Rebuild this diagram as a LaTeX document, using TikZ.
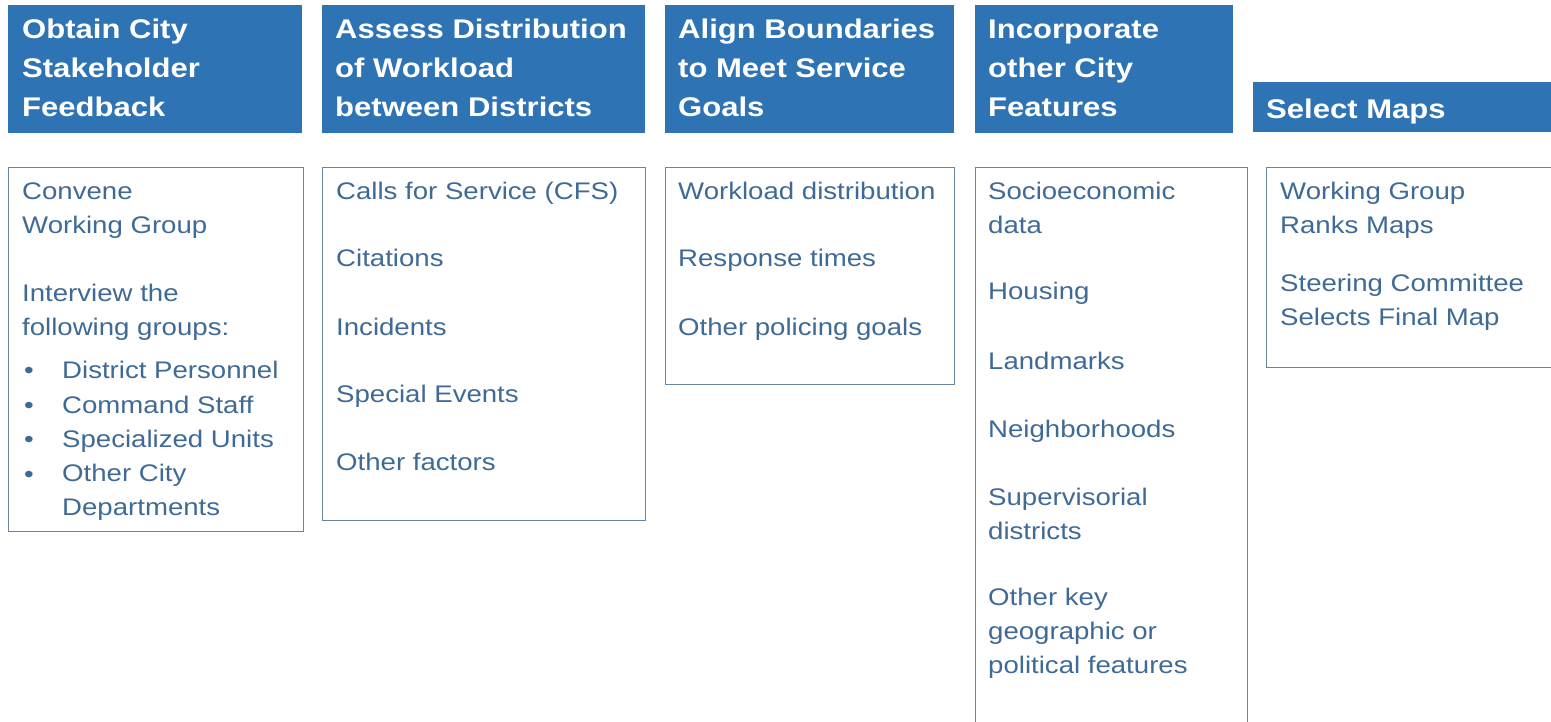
\documentclass[tikz,border=0pt]{standalone}
\usepackage{fontspec}
\setmainfont{Liberation Sans}[FakeStretch=1.15]
\usetikzlibrary{positioning}
\definecolor{headblue}{RGB}{46,116,181}
\definecolor{textblue}{RGB}{64,106,150}
\definecolor{boxline}{RGB}{104,134,162}
\begin{document}
\begin{tikzpicture}[x=1pt,y=-1pt]
\tikzset{head/.style = {fill=headblue, draw=none, anchor=north west, inner sep=0pt},
  headtext/.style = {anchor=base west, text=white, inner sep=0pt, align=left, font=\fontsize{27}{39}\selectfont\bfseries},
  frame/.style = {draw=boxline, line width=1.2pt, anchor=north west, inner sep=0pt},
  item/.style = {anchor=base west, text=textblue, inner sep=0pt, align=left, font=\fontsize{24}{34}\selectfont}}
\useasboundingbox[fill=white] (0,0) rectangle (1551,722);
% header bars
\node[head, minimum width=294pt, minimum height=128pt] (h1) at (8,5) {};
\node[head, minimum width=323pt, minimum height=128pt] (h2) at (322,5) {};
\node[head, minimum width=289pt, minimum height=128pt] (h3) at (665,5) {};
\node[head, minimum width=258pt, minimum height=128pt] (h4) at (975,5) {};
\node[head, minimum width=300pt, minimum height=50pt] (h5) at (1253,82) {};

% header texts (base = last line)
\node[headtext] (t1) at (22,117) {Obtain City\\Stakeholder\\Feedback};
\node[headtext] (t2) at (335,117) {Assess Distribution\\of Workload\\between Districts};
\node[headtext] (t3) at (678,117) {Align Boundaries\\to Meet Service\\Goals};
\node[headtext] (t4) at (988,117) {Incorporate\\other City\\Features};
\node[headtext] (t5) at (1266,119) {Select Maps};

% boxes
\node[frame, minimum width=295pt, minimum height=364pt] (b1) at (8,167) {};
\node[frame, minimum width=323pt, minimum height=353pt] (b2) at (322,167) {};
\node[frame, minimum width=289pt, minimum height=217pt] (b3) at (665,167) {};
\node[frame, minimum width=272pt, minimum height=580pt] (b4) at (975,167) {};
\node[frame, minimum width=300pt, minimum height=200pt] (b5) at (1266,167) {};

% column 1
\node[item] (c1a) at (22,234) {Convene\\Working Group};
\node[item] (c1b) at (22,335) {Interview the\\following groups:};
\node[item] (d1) at (24,378) {\textbullet};
\node[item] (d2) at (24,413) {\textbullet};
\node[item] (d3) at (24,447) {\textbullet};
\node[item] (d4) at (24,482) {\textbullet};
\node[item] (g1) at (62,378) {District Personnel};
\node[item] (g2) at (62,413) {Command Staff};
\node[item] (g3) at (62,447) {Specialized Units};
\node[item] (g4) at (62,515) {Other City\\Departments};

% column 2
\node[item] (c2a) at (336,200) {Calls for Service (CFS)};
\node[item] (c2b) at (336,267) {Citations};
\node[item] (c2c) at (336,335) {Incidents};
\node[item] (c2d) at (336,402) {Special Events};
\node[item] (c2e) at (336,470) {Other factors};

% column 3
\node[item] (c3a) at (678,200) {Workload distribution};
\node[item] (c3b) at (678,267) {Response times};
\node[item] (c3c) at (678,335) {Other policing goals};

% column 4
\node[item] (c4a) at (988,234) {Socioeconomic\\data};
\node[item] (c4b) at (988,300) {Housing};
\node[item] (c4c) at (988,369) {Landmarks};
\node[item] (c4d) at (988,437) {Neighborhoods};
\node[item] (c4e) at (988,539) {Supervisorial\\districts};
\node[item] (c4f) at (988,673) {Other key\\geographic or\\political features};

% column 5
\node[item] (c5a) at (1280,234) {Working Group\\Ranks Maps};
\node[item] (c5b) at (1280,325) {Steering Committee\\Selects Final Map};
\end{tikzpicture}
\end{document}
